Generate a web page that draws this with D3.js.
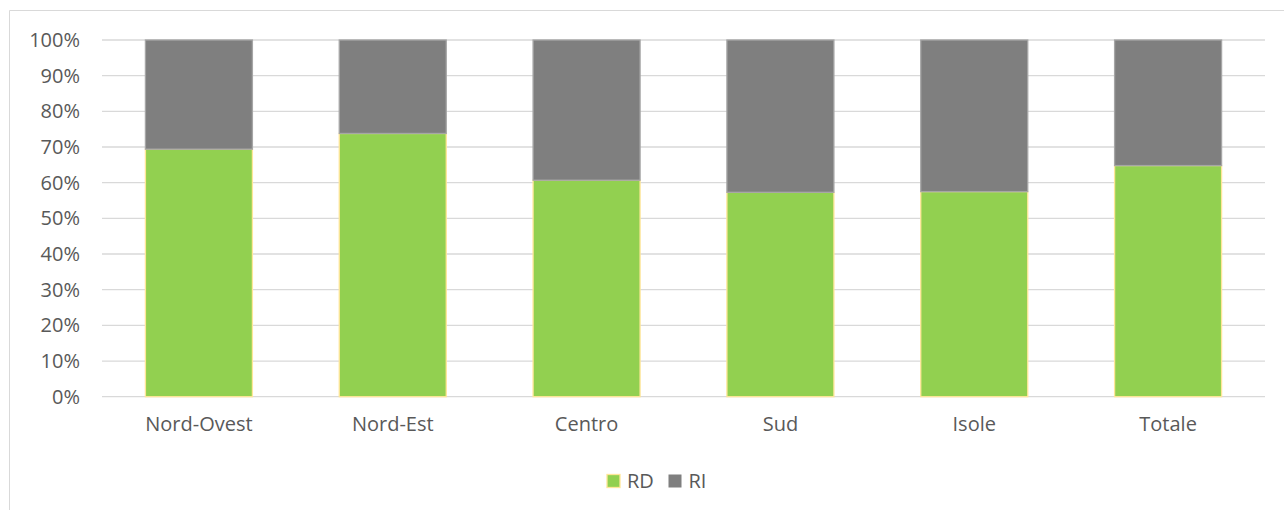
<!DOCTYPE html>
<html>
<head>
<meta charset="utf-8">
<script src="https://cdn.jsdelivr.net/npm/d3@7"></script>
<style>
  html, body { margin: 0; padding: 0; background: #fff; }
  svg { display: block; font-family: "Open Sans", "Liberation Sans", sans-serif; }
</style>
</head>
<body>
<svg id="chart" width="1284" height="510"></svg>
<script>
// Share of RD vs RI by area (percent of total)
const categories = ["Nord-Ovest", "Nord-Est", "Centro", "Sud", "Isole", "Totale"];
const rdValues = [69.4, 73.8, 60.7, 57.3, 57.5, 64.8];
const riValues = rdValues.map(v => 100 - v);
const seriesNames = ["RD", "RI"];
const yTicks = [0, 10, 20, 30, 40, 50, 60, 70, 80, 90, 100];

const colors = { RD: "#92d050", RI: "#7f7f7f" };
const strokes = { RD: "#ffe699", RI: "#a6a6a6" };

const svg = d3.select("#chart");
const W = 1284, H = 510;

// chart frame
svg.append("path")
  .attr("d", `M9.5,${H} V10.5 H${W}`)
  .attr("fill", "none")
  .attr("stroke", "#d9d9d9")
  .attr("stroke-width", 1);

const plot = { left: 102, right: 1265, top: 40, bottom: 396.7 };

const x = d3.scaleBand()
  .domain(categories)
  .range([plot.left, plot.right])
  .paddingInner(0.448)
  .paddingOuter(0.224);

const y = d3.scaleLinear()
  .domain([0, 100])
  .range([plot.bottom, plot.top]);

// gridlines
svg.append("g")
  .selectAll("line")
  .data(yTicks)
  .join("line")
  .attr("x1", plot.left)
  .attr("x2", plot.right)
  .attr("y1", d => y(d))
  .attr("y2", d => y(d))
  .attr("stroke", "#d9d9d9")
  .attr("stroke-width", 1.3);

// y axis labels
const yAxis = d3.axisLeft(y)
  .tickValues(yTicks)
  .tickFormat(d => d + "%")
  .tickSize(0)
  .tickPadding(22);
const gy = svg.append("g")
  .attr("transform", `translate(${plot.left},0)`)
  .call(yAxis);
gy.select(".domain").remove();
gy.selectAll("text")
  .attr("fill", "#595959")
  .attr("font-size", 20)
  .attr("font-family", "\"Open Sans\", sans-serif");

// stacked bars
const rows = categories.map((c, i) => ({ cat: c, RD: rdValues[i], RI: riValues[i] }));
const stack = d3.stack().keys(seriesNames)(rows);

svg.append("g")
  .selectAll("g")
  .data(stack)
  .join("g")
  .attr("fill", d => colors[d.key])
  .attr("stroke", d => strokes[d.key])
  .attr("stroke-width", 1.3)
  .selectAll("rect")
  .data(d => d)
  .join("rect")
  .attr("x", d => x(d.data.cat))
  .attr("width", x.bandwidth())
  .attr("y", d => y(d[1]))
  .attr("height", d => y(d[0]) - y(d[1]));

// x axis labels
const xAxis = d3.axisBottom(x).tickSize(0).tickPadding(20);
const gx = svg.append("g")
  .attr("transform", `translate(0,${plot.bottom})`)
  .call(xAxis);
gx.select(".domain").remove();
gx.selectAll("text")
  .attr("fill", "#595959")
  .attr("font-size", 20)
  .attr("font-family", "\"Open Sans\", sans-serif");

// legend
const legendItems = [
  { key: "RD", x: 607 },
  { key: "RI", x: 668.5 }
];
const lg = svg.append("g");
legendItems.forEach(it => {
  lg.append("rect")
    .attr("x", it.x)
    .attr("y", 474.5)
    .attr("width", 13)
    .attr("height", 13)
    .attr("fill", colors[it.key])
    .attr("stroke", it.key === "RD" ? strokes.RD : "none")
    .attr("stroke-width", 1.3);
  lg.append("text")
    .attr("x", it.x + 20)
    .attr("y", 481)
    .attr("dy", "0.35em")
    .attr("fill", "#595959")
    .attr("font-size", 20)
    .text(it.key);
});
</script>
</body>
</html>
